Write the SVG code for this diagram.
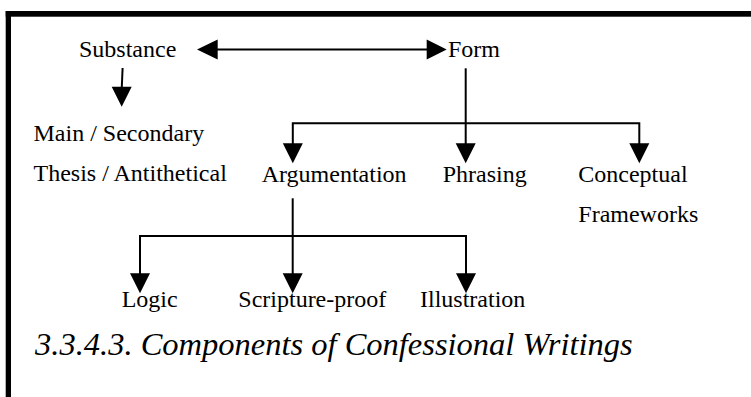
<svg xmlns="http://www.w3.org/2000/svg" width="751" height="397" viewBox="0 0 751 397">
<defs>
<polygon id="hdDown" points="-10,-20 10,-20 0,0" fill="#000"/>
<polygon id="hdLeft" points="0,0 20.7,-10 20.7,10" fill="#000"/>
<polygon id="hdRight" points="0,0 -20,-10 -20,10" fill="#000"/>
</defs>
<rect width="751" height="397" fill="#fff"/>
<g id="frame" fill="#000">
<rect x="5.7" y="11" width="745.3" height="5.7"/>
<rect x="5.7" y="11" width="5.3" height="386"/>
</g>
<g id="connectors" stroke="#000" stroke-width="2" fill="none">
<line x1="216" y1="49.5" x2="428" y2="49.5"/>
<use href="#hdLeft" x="197" y="49.5" stroke="none"/>
<use href="#hdRight" x="446.7" y="49.5" stroke="none"/>
<line x1="122.6" y1="68" x2="121.8" y2="87"/>
<use href="#hdDown" x="121.7" y="106.7" stroke="none"/>
<line x1="465.7" y1="68.3" x2="465.7" y2="145"/>
<polyline points="292.8,145 292.8,123.3 639.3,123.3 639.3,145"/>
<use href="#hdDown" x="292.8" y="163.3" stroke="none"/>
<use href="#hdDown" x="465.7" y="163.3" stroke="none"/>
<use href="#hdDown" x="639.3" y="163.3" stroke="none"/>
<line x1="292.7" y1="198.3" x2="292.7" y2="275"/>
<polyline points="140,275 140,236 466,236 466,275"/>
<use href="#hdDown" x="140" y="293.3" stroke="none"/>
<use href="#hdDown" x="292.7" y="293.3" stroke="none"/>
<use href="#hdDown" x="466" y="293.3" stroke="none"/>
</g>
<g font-family="Liberation Serif, serif" font-size="24" fill="#000">
<g id="substance"><text x="79" y="57">Substance</text></g>
<g id="form"><text x="448" y="57">Form</text></g>
<g id="main-secondary"><text x="33.5" y="141">Main / Secondary</text></g>
<g id="thesis-antithetical"><text x="33.5" y="181">Thesis / Antithetical</text></g>
<g id="argumentation"><text x="261.7" y="181.5">Argumentation</text></g>
<g id="phrasing"><text x="442.7" y="181.5">Phrasing</text></g>
<g id="conceptual-frameworks"><text x="578.3" y="181.5">Conceptual</text><text x="578.3" y="221.7">Frameworks</text></g>
<g id="logic"><text x="121.7" y="306.7">Logic</text></g>
<g id="scripture-proof"><text x="238.3" y="306.7">Scripture-proof</text></g>
<g id="illustration"><text x="420" y="306.7">Illustration</text></g>
<g id="caption"><text x="35" y="355" font-size="32.5" font-style="italic">3.3.4.3. Components of Confessional Writings</text></g>
</g>
</svg>
